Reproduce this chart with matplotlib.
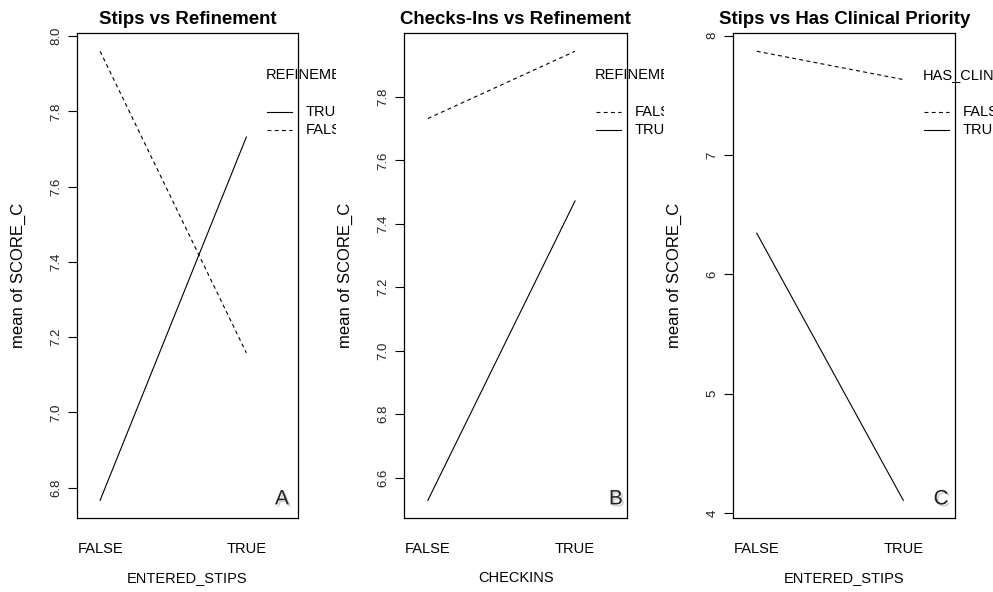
import matplotlib.pyplot as plt
import matplotlib.patheffects as pe
from matplotlib.transforms import Bbox, TransformedBbox

plt.rcParams['font.family'] = ['Liberation Sans', 'DejaVu Sans']

# x factor levels shared by every panel
levels = ['FALSE', 'TRUE']

# panel A: ENTERED_STIPS x REFINEMENT
a_true = [6.766, 7.732]
a_false = [7.960, 7.158]
# panel B: CHECKINS x REFINEMENT
b_false = [7.732, 7.944]
b_true = [6.528, 7.472]
# panel C: ENTERED_STIPS x HAS_CLINICAL_PRIORITY
c_false = [7.869, 7.632]
c_true = [6.344, 4.105]

titles = ['Stips vs Refinement', 'Checks-Ins vs Refinement',
          'Stips vs Has Clinical Priority']
xlabels = ['ENTERED_STIPS', 'CHECKINS', 'ENTERED_STIPS']
trace_names = ['REFINEMENT', 'REFINEMENT', 'HAS_CLINICAL_PRIORITY']
panel_tags = ['A', 'B', 'C']
yticks = [[6.8, 7.0, 7.2, 7.4, 7.6, 7.8, 8.0],
          [6.6, 6.8, 7.0, 7.2, 7.4, 7.6, 7.8],
          [4, 5, 6, 7, 8]]
ytick_fmt = ['{:.1f}', '{:.1f}', '{:.0f}']

# each panel: (label, values, linestyle) in legend order
traces = [
    [('TRUE', a_true, '-'), ('FALSE', a_false, '--')],
    [('FALSE', b_false, '--'), ('TRUE', b_true, '-')],
    [('FALSE', c_false, '--'), ('TRUE', c_true, '-')],
]

fig = plt.figure(figsize=(9.93, 5.92), dpi=100)
W, H = 993, 592
lefts = [76.7, 404.3, 733.3]
widths = [221.6, 223.0, 222.0]
regions = [(0, 336), (336, 664), (664, 993)]   # R plot regions, legend is clipped there
tag_x = [0.926, 0.949, 0.936]

for i in range(3):
    ax = fig.add_axes([lefts[i] / W, (H - 518.3) / H, widths[i] / W, 485 / H])
    xs = range(1, len(levels) + 1)
    for name, vals, ls in traces[i]:
        ax.plot(xs, vals, color='black', lw=0.8, linestyle=ls,
                dashes=(3.5, 3) if ls == '--' else (None, None))
    ax.margins(y=0.04)
    ax.set_xlim(0.84, 2.355)
    ax.set_xticks(list(xs))
    ax.set_xticklabels(levels, fontsize=10.5)
    ax.tick_params(axis='x', length=0, pad=17)
    ax.set_yticks(yticks[i])
    ax.set_yticklabels([ytick_fmt[i].format(v) for v in yticks[i]],
                       rotation=90, va='center', fontsize=9.5, color='#222')
    ax.tick_params(axis='y', length=6.5, width=0.8, pad=4)
    for s in ax.spines.values():
        s.set_linewidth(0.9)
    ax.set_title(titles[i], fontsize=13.4, fontweight='bold', pad=7)
    ax.text(0.5, -0.123, xlabels[i], transform=ax.transAxes,
            ha='center', va='center', fontsize=10.5)
    ax.text(-0.265, 0.5, 'mean of SCORE_C', transform=ax.transAxes,
            rotation=90, ha='center', va='center', fontsize=12)

    # legend placed like R's interaction.plot, clipped at the plot region edge
    x0, x1 = regions[i]
    clip = TransformedBbox(Bbox([[x0 / W, 0], [x1 / W, 1]]), fig.transFigure)
    t = ax.text(0.852, 0.915, trace_names[i], transform=ax.transAxes,
                ha='left', va='center', fontsize=10.5)
    t.set_clip_on(True)
    t.set_clip_box(clip)
    for k, (name, vals, ls) in enumerate(traces[i]):
        yy = 0.838 - k * 0.038
        ax.plot([0.858, 0.973], [yy, yy], transform=ax.transAxes,
                color='black', lw=0.8, linestyle=ls, clip_on=False,
                dashes=(3.5, 3) if ls == '--' else (None, None))
        t = ax.text(1.032, yy, name, transform=ax.transAxes,
                    ha='left', va='center', fontsize=10.5)
        t.set_clip_on(True)
        t.set_clip_box(clip)

    ax.text(tag_x[i], 0.04, panel_tags[i], transform=ax.transAxes,
            ha='center', va='center', fontsize=15, color='#222',
            path_effects=[pe.SimplePatchShadow(offset=(1.5, -1.5),
                                               shadow_rgbFace='gray', alpha=0.35),
                          pe.Normal()])

fig.savefig('out.png', dpi=100)
